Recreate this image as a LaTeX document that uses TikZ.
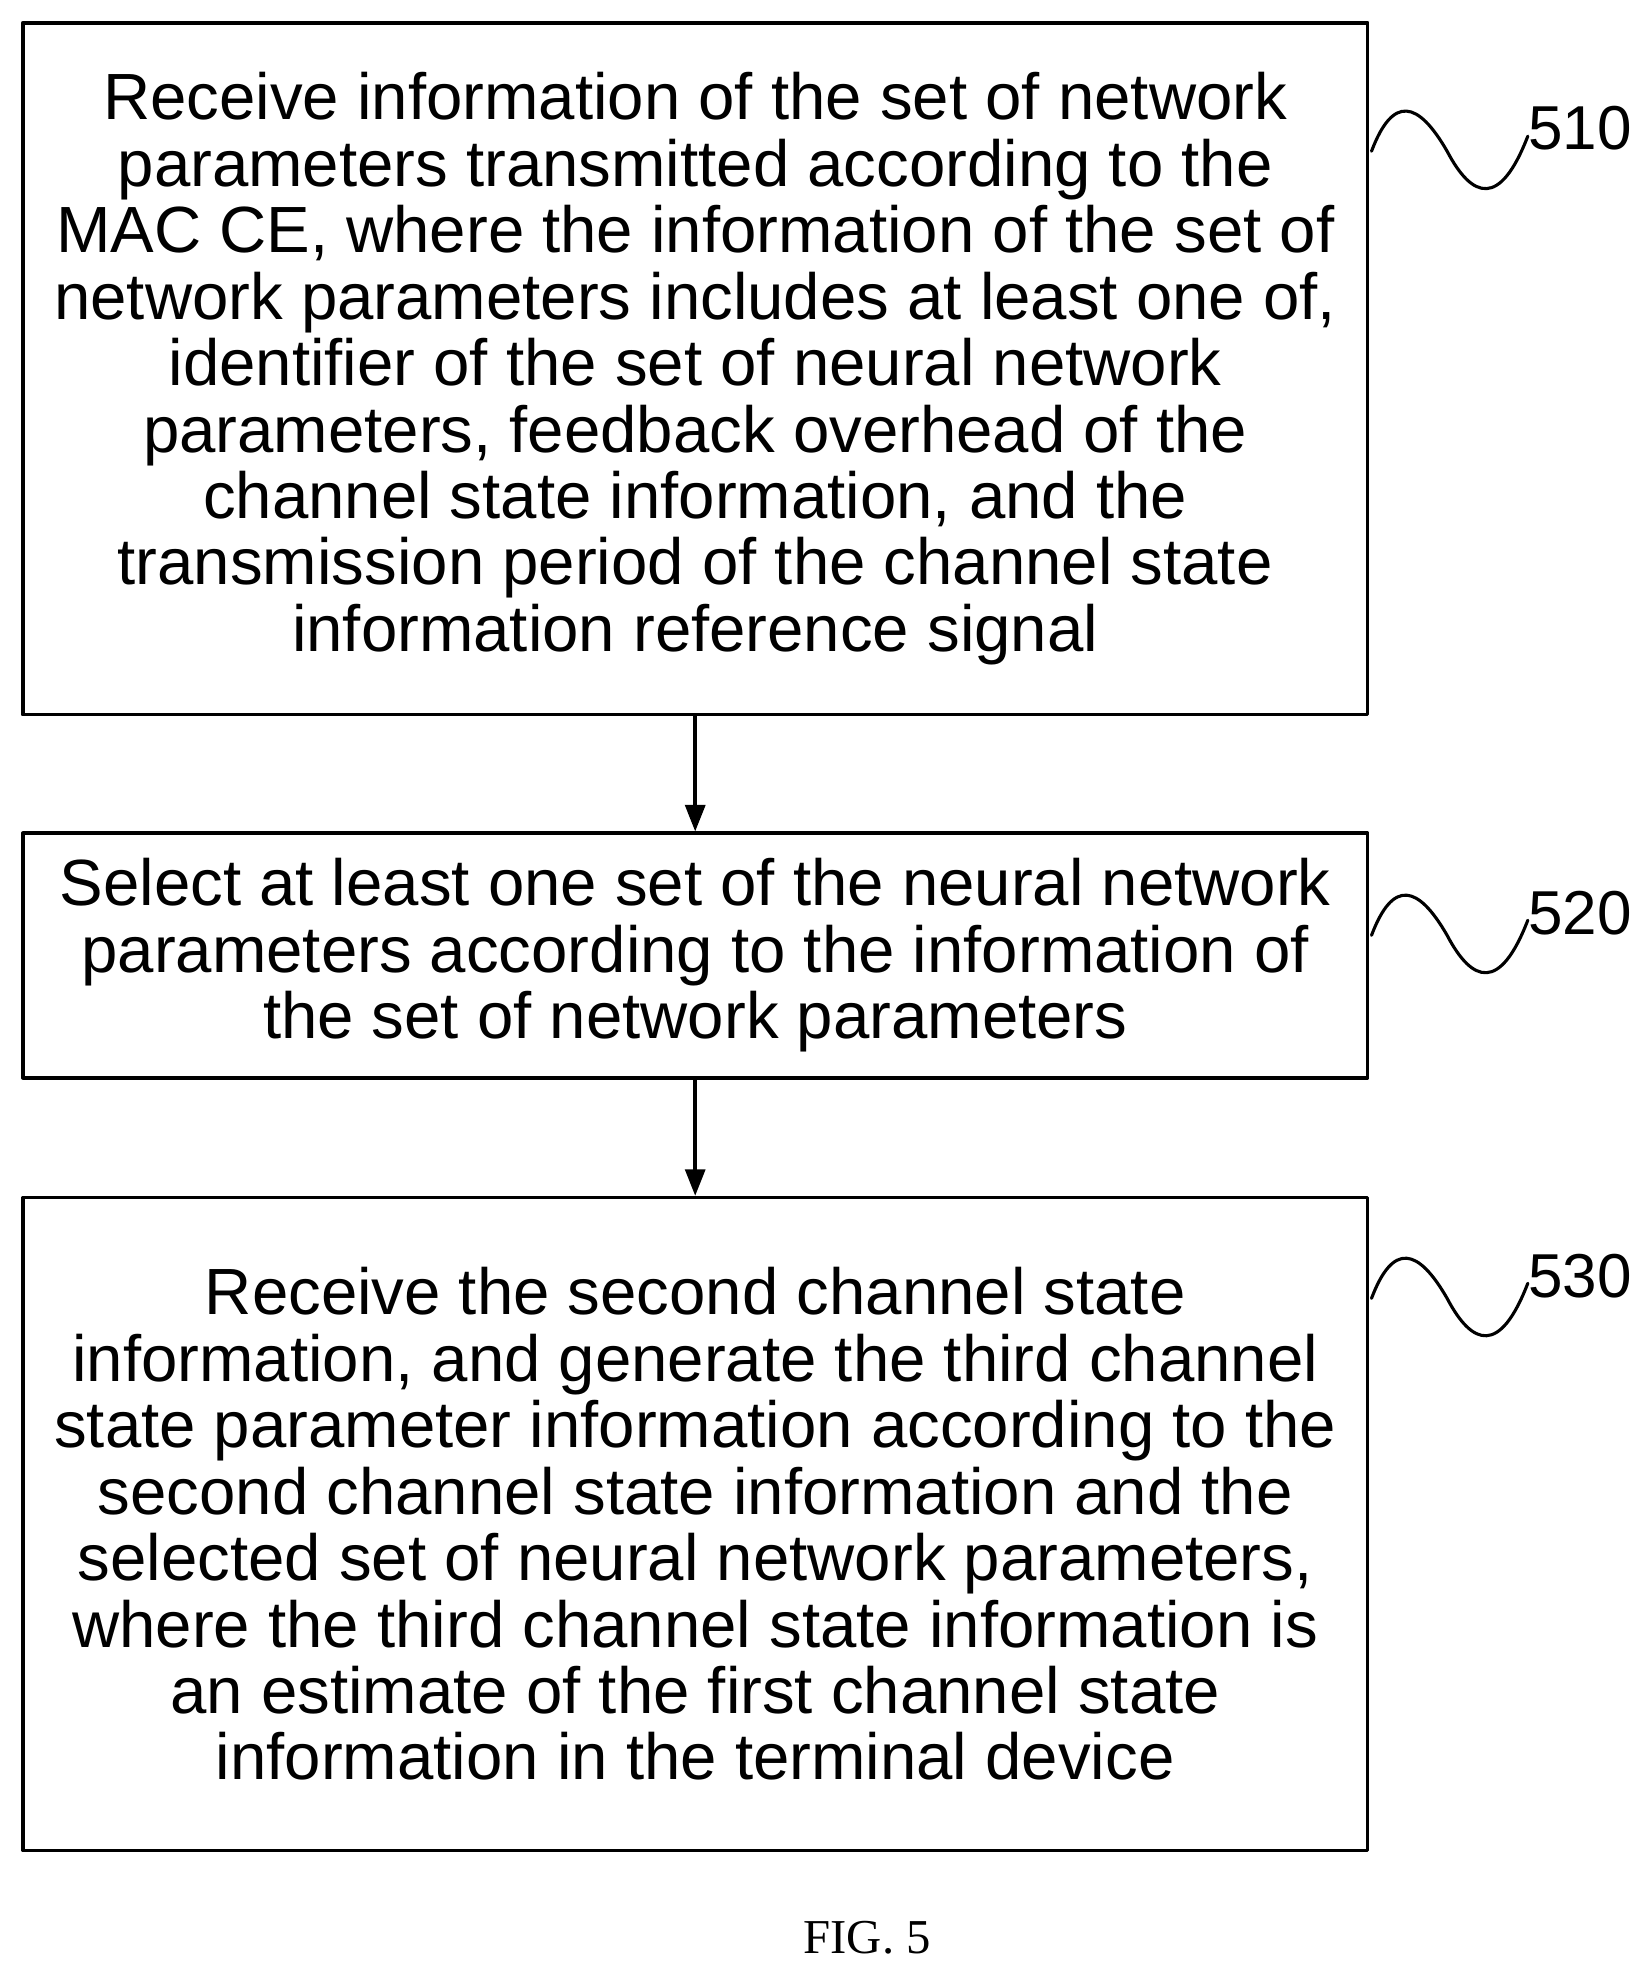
\documentclass[tikz,border=0pt]{standalone}
\usepackage{fontspec}
\setmainfont{Liberation Sans}
\newfontfamily\capfont{Liberation Serif}
\usetikzlibrary{arrows.meta}
\tikzset{
  stepbox/.style={draw, line width=1.6pt, align=center, inner sep=0pt,
    font=\fontsize{29.5}{30}\selectfont},
  flow/.style={-{Triangle[length=12pt,width=9pt]}, line width=1.6pt},
  squig/.style={line width=1.4pt},
  tag/.style={font=\fontsize{28}{30}\selectfont, anchor=west}
}
\begin{document}
\begin{tikzpicture}[x=0.02cm, y=-0.02cm, line cap=round, line join=round]
		\useasboundingbox (0,0) rectangle (1310,1562);
		
		% steps
		\node [stepbox, minimum width=21.34cm, minimum height=10.98cm] (s510) at (551.5,292.5)
		  {Receive information of the set of network\\parameters transmitted according to the\\MAC CE, where the information of the set of\\network parameters includes at least one of,\\identifier of the set of neural network\\parameters, feedback overhead of the\\channel state information, and the\\transmission period of the channel state\\information reference signal};
		\node [stepbox, minimum width=21.34cm, minimum height=3.88cm] (s520) at (551.5,758)
		  {Select at least one set of the neural network\\parameters according to the information of\\the set of network parameters};
		\node [stepbox, minimum width=21.34cm, minimum height=10.36cm] (s530) at (551.5,1209)
		  {Receive the second channel state\\information, and generate the third channel\\state parameter information according to the\\second channel state information and the\\selected set of neural network parameters,\\where the third channel state information is\\an estimate of the first channel state\\information in the terminal device};
		
		% arrows
		\draw [flow] (s510) -- (s520);
		\draw [flow] (s520) -- (s530);
		
		% reference squiggles
		\foreach \n/\y in {510/120, 520/742, 530/1030}{
		  \draw [squig] (1088,\y) .. controls (1105,\y-45) and (1125,\y-40) .. (1148,\y)
		    .. controls (1168,\y+38) and (1190,\y+45) .. (1212,\y-12);
		  \node [tag] (t\n) at (1206,\y-18) {\n};
		}
		
		\node [font=\capfont\fontsize{22}{26}\selectfont] (fig) at (688,1537) {FIG. 5};
	\end{tikzpicture}
\end{document}
